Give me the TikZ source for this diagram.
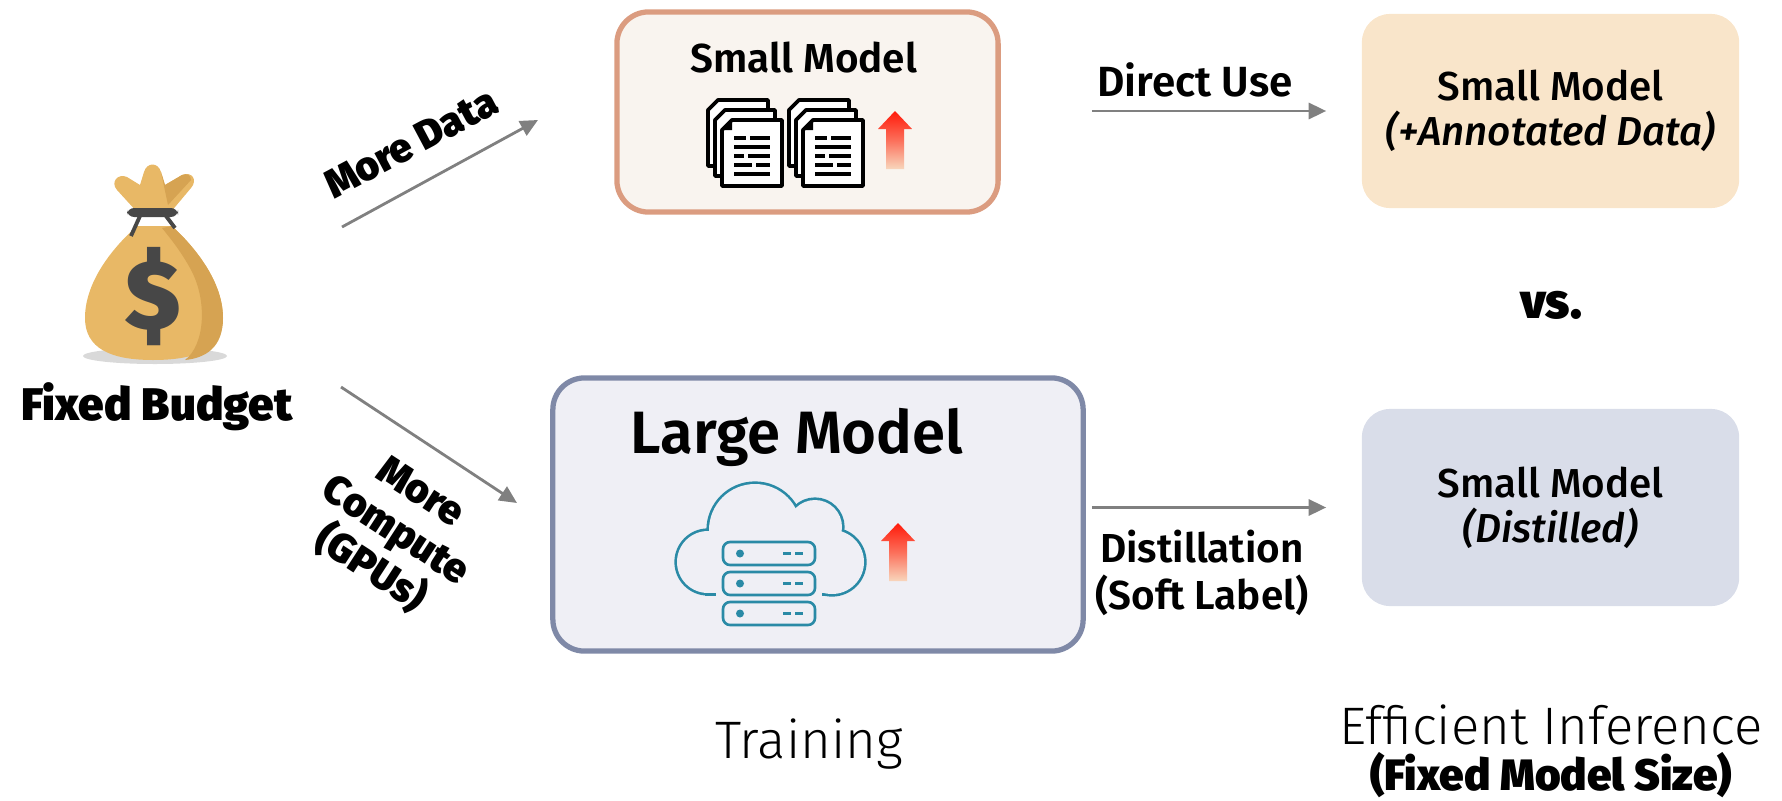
\documentclass[tikz,border=0pt]{standalone}
\usepackage{fontspec}
\setmainfont{Fira Sans}
\newfontfamily\semifont{Fira Sans SemiBold}
\newfontfamily\medfont{Fira Sans Medium}
\newfontfamily\meditfont{Fira Sans Medium Italic}
\newfontfamily\blackfont{Fira Sans Black}
\newfontfamily\lightfont{Fira Sans Light}
\usetikzlibrary{arrows.meta}

\definecolor{flowgray}{HTML}{808080}
\definecolor{smallline}{HTML}{DB9C80}
\definecolor{smallfill}{HTML}{F9F4EF}
\definecolor{largeline}{HTML}{7F89A7}
\definecolor{largefill}{HTML}{EFEFF5}
\definecolor{annotfill}{HTML}{F9E5CA}
\definecolor{distfill}{HTML}{D9DDE9}
\definecolor{cloudteal}{HTML}{2A8AA6}
\definecolor{bagbody}{HTML}{E8B866}
\definecolor{bagdark}{HTML}{D6A352}
\definecolor{bagtie}{HTML}{474747}
\definecolor{bagshadow}{HTML}{D9D9D9}
\definecolor{arrowred}{HTML}{FF1A0A}
\definecolor{arrowpeach}{HTML}{F8D6BC}

\tikzset{
  flow/.style={draw=flowgray, line width=0.8pt, -{Triangle[length=5pt,width=4.6pt]}},
  modelbox/.style={rounded corners=9pt, line width=1.5pt, inner sep=0pt},
  infbox/.style={rounded corners=8pt, inner sep=0pt, minimum width=3.77cm,
    align=center, font=\medfont\fontsize{11.5}{12.8}\selectfont},
  steplabel/.style={font=\semifont\fontsize{11.5}{13.4}\selectfont, align=center},
  heavylabel/.style={font=\blackfont\fontsize{11.5}{13}\selectfont, align=center},
  stagelabel/.style={font=\lightfont\fontsize{15}{17}\selectfont},
  docpage/.style={draw=black, fill=white, line width=1.1pt, line join=round},
  cloudline/.style={draw=cloudteal, line width=0.75pt},
}

\begin{document}
\begin{tikzpicture}[x=0.01cm, y=-0.01cm]
  \useasboundingbox (0,0) rectangle (1782,800);

  % money bag
  \fill[bagshadow] (155,356) ellipse [x radius=72, y radius=8];
  \fill[bagbody] (137,226) .. controls (108,252) and (85,285) .. (85,318)
    .. controls (85,348) and (110,360) .. (153,360)
    .. controls (198,360) and (223,348) .. (223,318)
    .. controls (223,285) and (200,252) .. (172,226) -- cycle;
  \fill[bagdark] (172,226) .. controls (200,252) and (223,285) .. (223,318)
    .. controls (223,348) and (205,358) .. (185,360)
    .. controls (205,345) and (208,300) .. (190,268)
    .. controls (180,250) and (170,238) .. (162,228) -- cycle;
  \fill[bagbody] (138,213) -- (117,190) .. controls (110,182) and (118,173) .. (127,177)
    -- (140,185) -- (144,172) .. controls (147,162) and (158,162) .. (161,172)
    -- (165,185) -- (182,175) .. controls (192,171) and (198,180) .. (191,188)
    -- (170,213) -- cycle;
  \fill[bagdark] (161,172) -- (165,185) -- (182,175) .. controls (187,173) and (191,175) .. (191,180)
    -- (168,205) -- cycle;
  \fill[bagtie, rounded corners=2pt] (127,208) rectangle (178,217);
  \draw[bagtie, line width=1.1pt] (140,216) -- (131,236) (166,216) -- (175,228);
  \node[text=bagtie, font=\blackfont\fontsize{28}{28}\selectfont] (dollar) at (153,297) {\$};
  \node[font=\blackfont\fontsize{13}{15}\selectfont] (budget) at (157,407) {Fixed Budget};

  % the two ways to spend it
  \coordinate (data-from) at (342,227);
  \coordinate (data-to) at (538,120);
  \coordinate (gpu-from) at (341,387);
  \coordinate (gpu-to) at (517,503);
  \draw[flow] (data-from) -- (data-to);
  \draw[flow] (gpu-from) -- (gpu-to);
  \node[heavylabel, rotate=28] (more-data) at (411,143) {More Data};
  \node[heavylabel, rotate=-33] (more-gpu) at (395,532) {More\\Compute\\(GPUs)};

  % training side
  \node[modelbox, draw=smallline, fill=smallfill, minimum width=3.81cm, minimum height=2cm] (smallbox) at (807.5,112) {};
  \node[font=\semifont\fontsize{11.5}{13}\selectfont] (small-title) at (804,58) {Small Model};
  \node[modelbox, draw=largeline, fill=largefill, minimum width=5.3cm, minimum height=2.73cm] (largebox) at (818,514.5) {};
  \node[font=\semifont\fontsize{17}{19}\selectfont] (large-title) at (797,437) {Large Model};

  % stacks of documents
  \foreach \px in {722,803} {
    \foreach \k in {2,1,0} {
      \filldraw[docpage, shift={(-7*\k,-10*\k)}]
        (\px,130) -- (\px+10,120) -- (\px+60,120) -- (\px+60,186) -- (\px,186) -- cycle;
    }
    \fill (\px,130) -- (\px+10,120) -- (\px+10,130) -- cycle;
    \draw[line width=1pt] (\px+12,138) -- (\px+24,138) (\px+28,138) -- (\px+48,138)
      (\px+12,147) -- (\px+48,147)
      (\px+12,156) -- (\px+22,156) (\px+26,156) -- (\px+48,156)
      (\px+12,165) -- (\px+30,165) (\px+34,165) -- (\px+48,165)
      (\px+12,174) -- (\px+48,174);
  }

  % cloud with servers
  \foreach \cx/\cy/\r in {708/562/31, 755/530/46, 815/527/27, 832/562/32}
    \draw[cloudline, line width=1.5pt] (\cx,\cy) circle (\r);
  \draw[cloudline, line width=1.5pt] (708,540) rectangle (832,593);
  \foreach \cx/\cy/\r in {708/562/31, 755/530/46, 815/527/27, 832/562/32}
    \fill[largefill] (\cx,\cy) circle (\r);
  \fill[largefill] (708,540) rectangle (832,593);
  \fill[largefill] (716,585) rectangle (822,600);
  \foreach \sy in {542,572,602} {
    \draw[cloudline, fill=largefill, rounded corners=2pt] (723,\sy) rectangle (815,\sy+23);
    \fill[cloudteal] (740,\sy+11.5) circle (4);
    \draw[cloudline] (783,\sy+11.5) -- (791,\sy+11.5) (795,\sy+11.5) -- (803,\sy+11.5);
  }

  % growth arrows
  \foreach \ax/\ay in {895/111, 898/523}
    \shade[top color=arrowred, bottom color=arrowpeach, middle color=arrowred!55!arrowpeach]
      (\ax,\ay) -- (\ax+17,\ay+18) -- (\ax+9,\ay+18) -- (\ax+9,\ay+58)
      -- (\ax-9,\ay+58) -- (\ax-9,\ay+18) -- (\ax-17,\ay+18) -- cycle;

  % inference side
  \node[infbox, fill=annotfill, minimum height=1.94cm] (annot) at (1550.5,111)
    {Small Model\\{\meditfont (+Annotated Data)}};
  \node[infbox, fill=distfill, minimum height=1.97cm] (distilled) at (1550.5,507.5)
    {Small Model\\{\meditfont (Distilled)}};
  \node[font=\blackfont\fontsize{14}{16}\selectfont] (versus) at (1551,305) {vs.};

  \draw[flow] ([xshift=0.91cm]smallbox.east |- annot.west) -- ([xshift=-0.35cm]annot.west);
  \draw[flow] ([xshift=0.06cm]largebox.east |- distilled.west) -- ([xshift=-0.35cm]distilled.west);
  \node[steplabel, font=\semifont\fontsize{12}{13.4}\selectfont] (direct) at (1195,80) {Direct Use};
  \node[steplabel] (distill) at (1202,573) {Distillation\\(Soft Label)};

  % stage captions
  \node[stagelabel] (training) at (809,744) {Training};
  \node[stagelabel] (inference) at (1551,725) {Efficient Inference};
  \node[font=\blackfont\fontsize{12.5}{14}\selectfont] (fixed-size) at (1551,775) {(Fixed Model Size)};
\end{tikzpicture}
\end{document}
